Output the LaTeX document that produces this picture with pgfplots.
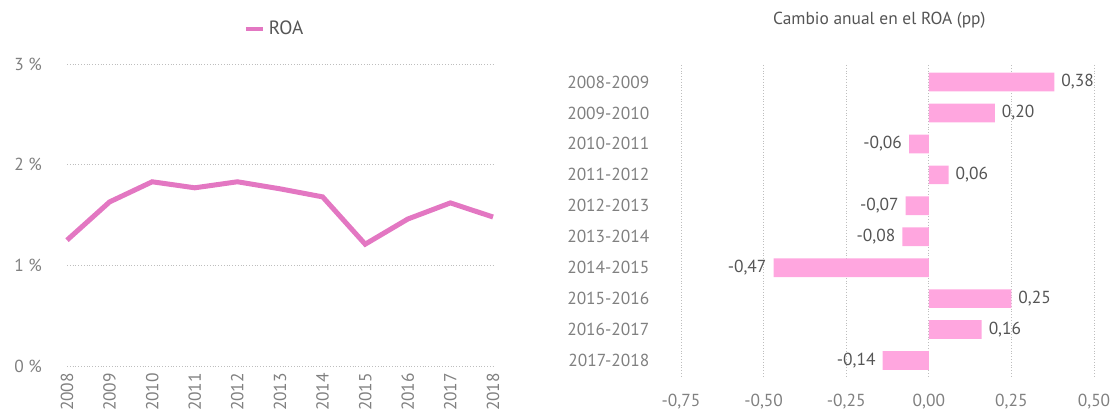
\documentclass[border=0pt]{standalone}
\usepackage{pgfplots}
\pgfplotsset{compat=1.18}
\usepackage{fontspec}
\setmainfont{PT Sans}
\definecolor{roa}{HTML}{E377C2}
\definecolor{barpink}{HTML}{FFA6DF}
\definecolor{tickgray}{HTML}{808080}
\definecolor{labgray}{HTML}{555555}
\definecolor{gridgray}{HTML}{BEBEBE}
\begin{document}
\begin{tikzpicture}[font=\fontsize{8.7}{10}\selectfont]
\path[use as bounding box] (0,0) rectangle (556pt,205pt);
\begin{axis}[
  at={(33.5pt,22pt)}, anchor=south west,
  scale only axis, width=213pt, height=151pt,
  xmin=2008, xmax=2018, ymin=0, ymax=3,
  clip=false,
  axis line style={draw=none}, tick style={draw=none},
  xtick={2008,2009,2010,2011,2012,2013,2014,2015,2016,2017,2018},
  xticklabels={2008,2009,2010,2011,2012,2013,2014,2015,2016,2017,2018},
  ytick={0,1,2,3},
  yticklabels={0 \%,1 \%,2 \%,3 \%},
  ymajorgrids, grid style={densely dotted, gridgray, line width=0.4pt},
  xticklabel style={rotate=90, anchor=east, text=tickgray},
  yticklabel style={text=tickgray, anchor=east, xshift=-9pt},
  legend style={draw=none, fill=none, at={(0.49,1)}, anchor=center, yshift=17.5pt,
    text=labgray, legend cell align=left, font=\fontsize{9.6}{11}\selectfont},
  legend image code/.code={\draw[line width=1.8pt] (0cm,0cm) -- (0.3cm,0cm);},
]
\addplot[roa, line width=2.5pt] coordinates {
(2008,1.25) (2009,1.63) (2010,1.83) (2011,1.77) (2012,1.83) (2013,1.76)
(2014,1.68) (2015,1.21) (2016,1.46) (2017,1.62) (2018,1.48)};
\addlegendentry{ROA}
\end{axis}
\begin{axis}[
  at={(340.5pt,17pt)}, anchor=south west,
  scale only axis, width=206.5pt, height=155.5pt,
  xbar, bar width=9.35pt,
  xmin=-0.75, xmax=0.5, ymin=-0.55, ymax=9.5, y dir=reverse,
  clip=false,
  axis line style={draw=none}, tick style={draw=none},
  ytick={0,1,2,3,4,5,6,7,8,9},
  yticklabels={2008-2009,2009-2010,2010-2011,2011-2012,2012-2013,2013-2014,2014-2015,2015-2016,2016-2017,2017-2018},
  xtick={-0.75,-0.5,-0.25,0,0.25,0.5},
  xticklabel={\pgfmathprintnumber[fixed,fixed zerofill,precision=2,use comma,assume math mode=true]{\tick}},
  xticklabel style={text=tickgray, yshift=-5.5pt},
  yticklabel style={text=tickgray, anchor=east, xshift=-8pt},
  xmajorgrids, grid style={densely dotted, gridgray, line width=0.4pt},
  title={Cambio anual en el ROA (pp)},
  title style={at={(0.48,1)}, anchor=center, yshift=16.5pt, text=labgray},
  point meta=x,
  nodes near coords={\pgfmathprintnumber[fixed,fixed zerofill,precision=2,use comma,assume math mode=true]{\pgfplotspointmeta}},
  nodes near coords style={text=labgray},
]
\addplot[fill=barpink, draw=none] coordinates {
(0.38,0) (0.20,1) (-0.06,2) (0.06,3) (-0.07,4) (-0.08,5) (-0.47,6) (0.25,7) (0.16,8) (-0.14,9)};
\end{axis}
\end{tikzpicture}
\end{document}
